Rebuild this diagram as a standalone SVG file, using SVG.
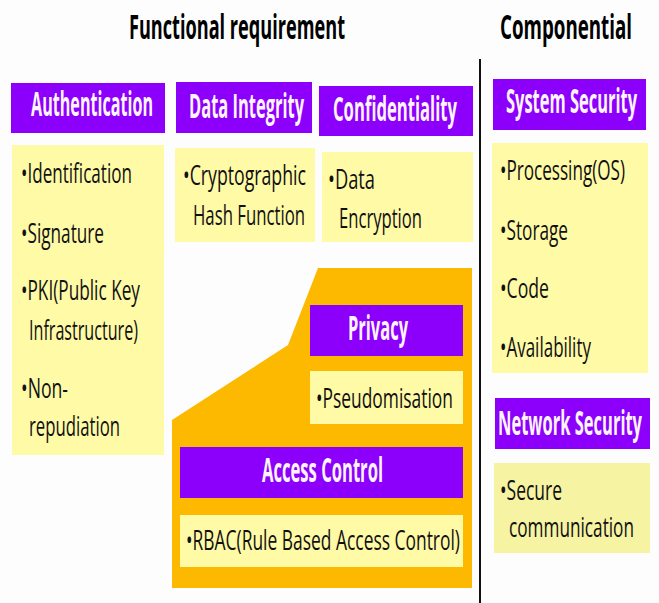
<svg xmlns="http://www.w3.org/2000/svg" width="659" height="603" viewBox="0 0 659 603">
<style>
.bg{fill:#fdfdfd}
.hdr{fill:#8c00fb}
.lst{fill:#fffaa6}
.lst2{fill:#f6f3a2}
.org{fill:#fdb900}
.title{font-family:"Open Sans","Noto Sans",sans-serif;font-weight:bold;font-size:18.5px;fill:#000}
.ht{font-family:"Open Sans","Noto Sans",sans-serif;font-weight:bold;font-size:17px;fill:#fff4ff}
.bt{font-family:"Open Sans","Noto Sans",sans-serif;font-size:17px;fill:#111}
.div{stroke:#111;stroke-width:2;fill:none}
</style>
<rect class="bg" x="0" y="0" width="659" height="603"/>
<g id="titles">
<text class="title" transform="translate(129,39) scale(1,1.8)" textLength="216" lengthAdjust="spacingAndGlyphs">Functional requirement</text>
<text class="title" transform="translate(500,39) scale(1,1.8)" textLength="132" lengthAdjust="spacingAndGlyphs">Componential</text>
</g>
<g id="connectors">
<line class="div" x1="480" y1="59" x2="480" y2="603"/>
</g>
<g id="authentication">
<rect class="hdr" x="11" y="83" width="154" height="50"/>
<text class="ht" transform="translate(31,116) scale(1,2)" textLength="122" lengthAdjust="spacingAndGlyphs">Authentication</text>
<rect class="lst" x="12" y="145" width="152" height="310"/>
<text class="bt" transform="translate(21,183) scale(1,1.65)" textLength="111" lengthAdjust="spacingAndGlyphs">•Identification</text>
<text class="bt" transform="translate(21,243) scale(1,1.65)" textLength="83" lengthAdjust="spacingAndGlyphs">•Signature</text>
<text class="bt" transform="translate(21,300) scale(1,1.65)" textLength="119" lengthAdjust="spacingAndGlyphs">•PKI(Public Key</text>
<text class="bt" transform="translate(29,340) scale(1,1.65)" textLength="109" lengthAdjust="spacingAndGlyphs">Infrastructure)</text>
<text class="bt" transform="translate(21,398) scale(1,1.65)" textLength="47" lengthAdjust="spacingAndGlyphs">•Non-</text>
<text class="bt" transform="translate(29,436) scale(1,1.65)" textLength="91" lengthAdjust="spacingAndGlyphs">repudiation</text>
</g>
<g id="data-integrity">
<rect class="hdr" x="176" y="82" width="136" height="51"/>
<text class="ht" transform="translate(189,118) scale(1,2)" textLength="115" lengthAdjust="spacingAndGlyphs">Data Integrity</text>
<rect class="lst" x="175" y="148" width="140" height="94"/>
<text class="bt" transform="translate(183,185) scale(1,1.65)" textLength="123" lengthAdjust="spacingAndGlyphs">•Cryptographic</text>
<text class="bt" transform="translate(193,225) scale(1,1.65)" textLength="112" lengthAdjust="spacingAndGlyphs">Hash Function</text>
</g>
<g id="confidentiality">
<rect class="hdr" x="319" y="86" width="154" height="50"/>
<text class="ht" transform="translate(333,121) scale(1,2)" textLength="124" lengthAdjust="spacingAndGlyphs">Confidentiality</text>
<rect class="lst" x="322" y="152" width="151" height="90"/>
<text class="bt" transform="translate(328,189) scale(1,1.65)" textLength="47" lengthAdjust="spacingAndGlyphs">•Data</text>
<text class="bt" transform="translate(339,228) scale(1,1.65)" textLength="83" lengthAdjust="spacingAndGlyphs">Encryption</text>
</g>
<g id="privacy-access">
<polygon class="org" points="318,268 472,268 472,588 172,588 172,420 288,345"/>
</g>
<g id="privacy">
<rect class="hdr" x="310" y="305" width="153" height="51"/>
<text class="ht" transform="translate(348,340) scale(1,2)" textLength="60" lengthAdjust="spacingAndGlyphs">Privacy</text>
<rect class="lst" x="310" y="371" width="153" height="53"/>
<text class="bt" transform="translate(316,408) scale(1,1.65)" textLength="137" lengthAdjust="spacingAndGlyphs">•Pseudomisation</text>
</g>
<g id="access-control">
<rect class="hdr" x="180" y="447" width="283" height="51"/>
<text class="ht" transform="translate(262,482) scale(1,2)" textLength="121" lengthAdjust="spacingAndGlyphs">Access Control</text>
<rect class="lst" x="180" y="515" width="283" height="52"/>
<text class="bt" transform="translate(186,550) scale(1,1.65)" textLength="274" lengthAdjust="spacingAndGlyphs">•RBAC(Rule Based Access Control)</text>
</g>
<g id="system-security">
<rect class="hdr" x="493" y="79" width="153" height="51"/>
<text class="ht" transform="translate(506,113) scale(1,2)" textLength="131" lengthAdjust="spacingAndGlyphs">System Security</text>
<rect class="lst" x="492" y="143" width="156" height="230"/>
<text class="bt" transform="translate(500,180) scale(1,1.65)" textLength="125" lengthAdjust="spacingAndGlyphs">•Processing(OS)</text>
<text class="bt" transform="translate(500,240) scale(1,1.65)" textLength="68" lengthAdjust="spacingAndGlyphs">•Storage</text>
<text class="bt" transform="translate(500,298) scale(1,1.65)" textLength="49" lengthAdjust="spacingAndGlyphs">•Code</text>
<text class="bt" transform="translate(500,357) scale(1,1.65)" textLength="91" lengthAdjust="spacingAndGlyphs">•Availability</text>
</g>
<g id="network-security">
<rect class="hdr" x="495" y="398" width="155" height="51"/>
<text class="ht" transform="translate(498,435) scale(1,2)" textLength="144" lengthAdjust="spacingAndGlyphs">Network Security</text>
<rect class="lst2" x="494" y="463" width="156" height="90"/>
<text class="bt" transform="translate(500,500) scale(1,1.65)" textLength="62" lengthAdjust="spacingAndGlyphs">•Secure</text>
<text class="bt" transform="translate(509,537) scale(1,1.65)" textLength="125" lengthAdjust="spacingAndGlyphs">communication</text>
</g>
</svg>
